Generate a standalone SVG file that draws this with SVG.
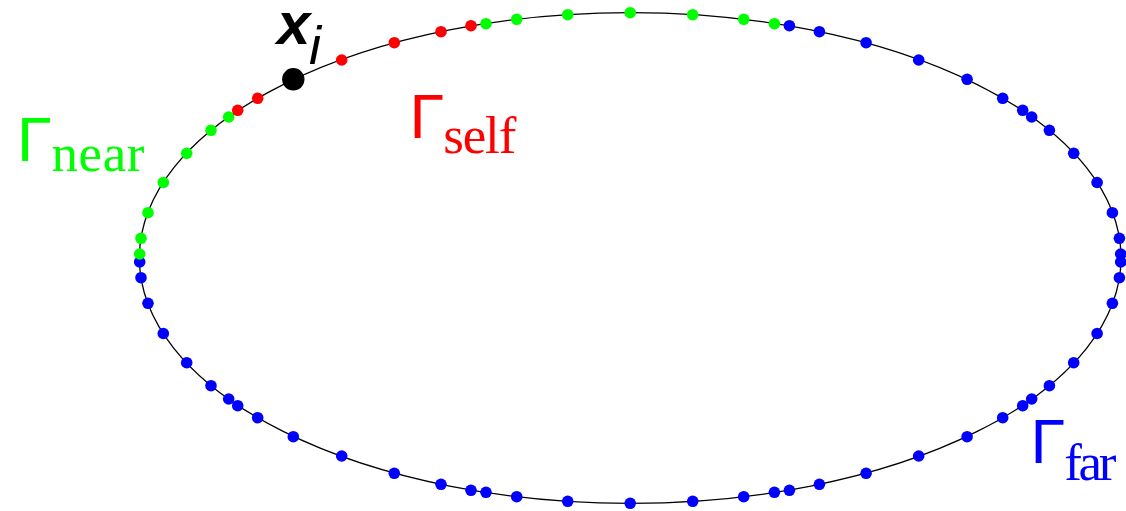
<svg xmlns="http://www.w3.org/2000/svg" width="1126" height="511" viewBox="0 0 1126 511">
<style>
.curve{fill:none;stroke:#000;stroke-width:1.3}
.b{fill:#0000ff}
.g{fill:#00ff00}
.r{fill:#ff0000}
.k{fill:#000}
.G{font-family:"Liberation Sans",Arial,sans-serif;font-size:63px}
.sub{font-family:"Liberation Serif","Times New Roman",serif;font-size:53px}
.xb{font-family:"Liberation Sans",Arial,sans-serif;font-weight:bold;font-style:italic;font-size:60px;fill:#000}
.xi{font-family:"Liberation Sans",Arial,sans-serif;font-style:italic;font-size:54px;fill:#000}
</style>
<rect width="1126" height="511" fill="#fff"/>
<g id="boundary">
<ellipse class="curve" cx="630.2" cy="258" rx="490.8" ry="245.3"/>
</g>
<g id="far-points" class="b">
<circle cx="789.4" cy="25.7" r="5.8"/><circle cx="819.4" cy="31.7" r="5.8"/><circle cx="866.1" cy="42.7" r="5.8"/><circle cx="918.7" cy="60" r="5.8"/><circle cx="967.1" cy="79.3" r="5.8"/><circle cx="1002.7" cy="98.3" r="5.8"/><circle cx="1022.7" cy="110.3" r="5.8"/><circle cx="1031.7" cy="117" r="5.8"/><circle cx="1049.4" cy="130.3" r="5.8"/><circle cx="1073.7" cy="153.3" r="5.8"/><circle cx="1097.1" cy="182.5" r="5.8"/><circle cx="1112.4" cy="212.7" r="5.8"/><circle cx="1119.4" cy="238.3" r="5.8"/><circle cx="1120.7" cy="254" r="5.8"/>
<circle cx="1120.7" cy="262" r="5.8"/><circle cx="1119.4" cy="277.7" r="5.8"/><circle cx="1112.4" cy="303.3" r="5.8"/><circle cx="1097.1" cy="333.5" r="5.8"/><circle cx="1073.7" cy="362.7" r="5.8"/><circle cx="1049.4" cy="385.7" r="5.8"/><circle cx="1031.7" cy="399" r="5.8"/><circle cx="1022.7" cy="405.7" r="5.8"/><circle cx="1002.7" cy="417.7" r="5.8"/><circle cx="967.1" cy="436.7" r="5.8"/><circle cx="918.7" cy="456" r="5.8"/><circle cx="866.1" cy="473.3" r="5.8"/><circle cx="819.4" cy="484.3" r="5.8"/><circle cx="789.4" cy="490.3" r="5.8"/><circle cx="774.4" cy="492.3" r="5.8"/><circle cx="743.7" cy="496.7" r="5.8"/><circle cx="692.7" cy="501.3" r="5.8"/>
<circle cx="630.2" cy="503.3" r="5.8"/>
<circle cx="567.7" cy="501.3" r="5.8"/><circle cx="516.7" cy="496.7" r="5.8"/><circle cx="486" cy="492.3" r="5.8"/><circle cx="471" cy="490.3" r="5.8"/><circle cx="441" cy="484.3" r="5.8"/><circle cx="394.3" cy="473.3" r="5.8"/><circle cx="341.7" cy="456" r="5.8"/><circle cx="293.3" cy="436.7" r="5.8"/><circle cx="257.7" cy="417.7" r="5.8"/><circle cx="237.7" cy="405.7" r="5.8"/><circle cx="228.7" cy="399" r="5.8"/><circle cx="211" cy="385.7" r="5.8"/><circle cx="186.7" cy="362.7" r="5.8"/><circle cx="163.3" cy="333.5" r="5.8"/><circle cx="148" cy="303.3" r="5.8"/><circle cx="141" cy="277.7" r="5.8"/><circle cx="139.7" cy="262" r="5.8"/>
</g>
<g id="near-points" class="g">
<circle cx="139.7" cy="254" r="5.8"/><circle cx="141" cy="238.3" r="5.8"/><circle cx="148" cy="212.7" r="5.8"/><circle cx="163.3" cy="182.5" r="5.8"/><circle cx="186.7" cy="153.3" r="5.8"/><circle cx="211" cy="130.3" r="5.8"/><circle cx="228.7" cy="117" r="5.8"/>
<circle cx="486" cy="23.7" r="5.8"/><circle cx="516.7" cy="19.3" r="5.8"/><circle cx="567.7" cy="14.7" r="5.8"/><circle cx="630.2" cy="12.7" r="5.8"/><circle cx="692.7" cy="14.7" r="5.8"/><circle cx="743.7" cy="19.3" r="5.8"/><circle cx="774.4" cy="23.7" r="5.8"/>
</g>
<g id="self-points" class="r">
<circle cx="237.7" cy="110.3" r="5.8"/><circle cx="257.7" cy="98.3" r="5.8"/><circle cx="341.7" cy="60" r="5.8"/><circle cx="394.3" cy="42.7" r="5.8"/><circle cx="441" cy="31.7" r="5.8"/><circle cx="471" cy="25.7" r="5.8"/>
</g>
<g id="xi">
<circle class="k" cx="293.3" cy="79.3" r="11.2"/>
<text class="xb" x="277" y="44.3">x</text>
<text class="xi" x="309" y="64.3">i</text>
</g>
<g id="label-near" fill="#00ff00">
<text class="G" x="17" y="161">Γ</text>
<text class="sub" x="51.5" y="171" textLength="93">near</text>
</g>
<g id="label-self" fill="#ff0000">
<text class="G" x="409.5" y="137.7">Γ</text>
<text class="sub" x="443.3" y="152.7" textLength="73">self</text>
</g>
<g id="label-far" fill="#0000ff">
<text class="G" x="1030.5" y="463.3">Γ</text>
<text class="sub" x="1064.3" y="480" textLength="52">far</text>
</g>
</svg>
